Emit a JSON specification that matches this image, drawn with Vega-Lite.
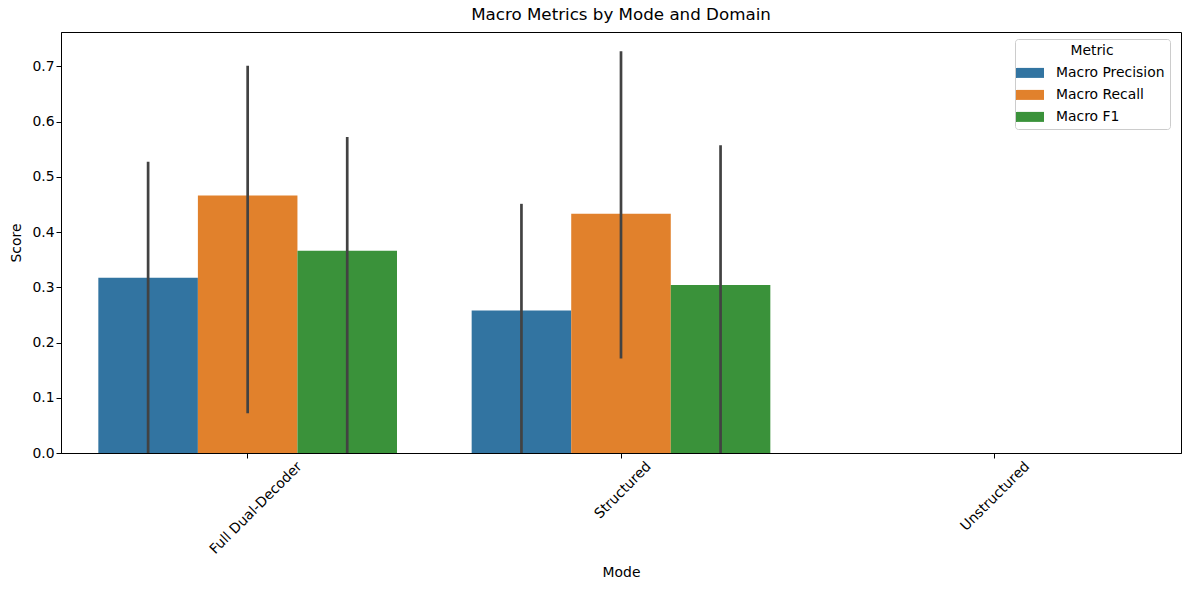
{
  "$schema": "https://vega.github.io/schema/vega-lite/v6.json",
  "width": 1120,
  "height": 421,
  "autosize": {"type": "none"},
  "padding": {"left": 61, "top": 32, "right": 8, "bottom": 137},
  "background": "white",
  "config": {
    "font": "DejaVu Sans",
    "view": {"stroke": "black", "strokeWidth": 1},
    "axis": {"labelColor": "black", "titleColor": "black", "domainColor": "black", "tickColor": "black", "grid": false, "labelFont": "DejaVu Sans", "titleFont": "DejaVu Sans", "labelFontSize": 13.9, "titleFontSize": 13.9, "titleFontWeight": "normal", "tickSize": 5}
  },
  "title": {"text": "Macro Metrics by Mode and Domain", "fontSize": 16.7, "fontWeight": "normal", "font": "DejaVu Sans", "color": "black", "offset": 8},
  "data": {
    "values": [
      {"Mode": "Full Dual-Decoder", "Metric": "Macro Precision", "Score": 0.317, "Lo": 0.0, "Hi": 0.527},
      {"Mode": "Full Dual-Decoder", "Metric": "Macro Recall", "Score": 0.466, "Lo": 0.072, "Hi": 0.701},
      {"Mode": "Full Dual-Decoder", "Metric": "Macro F1", "Score": 0.366, "Lo": 0.0, "Hi": 0.572},
      {"Mode": "Structured", "Metric": "Macro Precision", "Score": 0.258, "Lo": 0.0, "Hi": 0.451},
      {"Mode": "Structured", "Metric": "Macro Recall", "Score": 0.433, "Lo": 0.171, "Hi": 0.727},
      {"Mode": "Structured", "Metric": "Macro F1", "Score": 0.304, "Lo": 0.0, "Hi": 0.557}
    ]
  },
  "encoding": {
    "x": {
      "field": "Mode", "type": "nominal",
      "scale": {"domain": ["Full Dual-Decoder", "Structured", "Unstructured"], "paddingInner": 0.2, "paddingOuter": 0.1},
      "axis": {
        "title": "Mode", "labelAngle": -45, "labelAlign": "right", "labelBaseline": "middle", "labelPadding": 6,
        "labelOffset": {"condition": [{"test": "datum.value == 'Full Dual-Decoder'", "value": 52}, {"test": "datum.value == 'Structured'", "value": 28}], "value": 33},
        "titleY": 119, "titleBaseline": "middle"
      }
    },
    "xOffset": {"field": "Metric", "type": "nominal", "scale": {"domain": ["Macro Precision", "Macro Recall", "Macro F1"]}}
  },
  "layer": [
    {
      "mark": {"type": "bar"},
      "encoding": {
        "y": {"field": "Score", "type": "quantitative", "scale": {"domain": [0, 0.762], "nice": false},
          "axis": {"title": "Score", "values": [0, 0.1, 0.2, 0.3, 0.4, 0.5, 0.6, 0.7], "format": ".1f", "titleX": -45, "titleBaseline": "middle"}},
        "color": {"field": "Metric", "type": "nominal",
          "scale": {"domain": ["Macro Precision", "Macro Recall", "Macro F1"], "range": ["#3274a1", "#e1812c", "#3a923a"]},
          "legend": {"title": "Metric", "orient": "none", "legendX": 954, "legendY": 7, "titleAnchor": "middle", "titleFontWeight": "normal", "titleFontSize": 13.9, "labelFontSize": 13.9, "titleColor": "black", "labelColor": "black", "symbolType": "M-1.4,-0.5H1.4V0.5H-1.4Z", "symbolSize": 400, "symbolStrokeWidth": 0, "labelOffset": 16, "rowPadding": 5, "padding": {"signal": "5"}, "titlePadding": 5, "strokeColor": "#cccccc", "fillColor": "white", "cornerRadius": 3}}
      }
    },
    {
      "mark": {"type": "rule", "color": "#424242", "strokeWidth": 2.7},
      "encoding": {
        "y": {"field": "Lo", "type": "quantitative"},
        "y2": {"field": "Hi"}
      }
    }
  ]
}
